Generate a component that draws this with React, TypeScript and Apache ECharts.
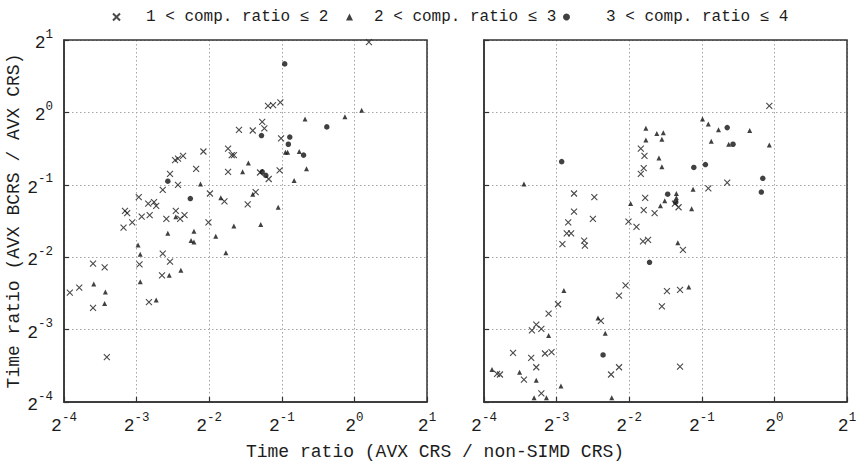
import React, { useEffect, useRef } from "react";
import * as echarts from "echarts";

// Values are log2 of the time ratios: [x, y]
const seriesNames = ["1 < comp. ratio ≤ 2", "2 < comp. ratio ≤ 3", "3 < comp. ratio ≤ 4"];
const exponentTicks = [-4, -3, -2, -1, 0, 1];

const leftCross: number[][] = [
  [-1.19, 0.09], [-1.12, 0.10], [-1.02, 0.14], [-1.27, -0.13], [-1.24, -0.22], [-1.59, -0.24], [-1.40, -0.25], [-1.01, -0.36],
  [-1.74, -0.50], [-1.69, -0.59], [-1.66, -0.59], [-2.08, -0.54], [-2.47, -0.66], [-2.43, -0.64], [-2.36, -0.60], [-2.18, -0.78], [-2.54, -0.85],
  [-1.74, -0.82], [-1.30, -0.83], [-1.03, -0.80], [-1.18, -0.92], [-2.43, -1.00], [-2.64, -1.07], [-2.97, -1.17], [-1.99, -1.12], [-1.79, -1.23],
  [-1.36, -1.10], [-1.47, -1.27], [-2.84, -1.26], [-2.76, -1.24], [-2.73, -1.29], [-3.16, -1.36], [-3.13, -1.39], [-3.06, -1.52], [-3.18, -1.59],
  [-2.93, -1.44], [-2.82, -1.42], [-2.59, -1.47], [-2.46, -1.36], [-2.40, -1.47], [-2.34, -1.42], [-2.01, -1.52], [-3.60, -2.09], [-3.44, -2.14],
  [-2.96, -2.10], [-2.64, -1.95], [-2.54, -2.06], [-2.65, -2.25], [-2.83, -2.62], [-3.60, -2.70], [-3.92, -2.49], [-3.79, -2.42], [-3.41, -3.38], [0.20, 0.97],
];
const leftTriangle: number[][] = [
  [0.10, 0.03], [-0.13, -0.06], [-0.68, -0.09], [-0.76, -0.54], [-0.95, -0.55], [-0.92, -0.55], [-0.66, -0.78], [-0.83, -0.94], [-1.46, -0.70], [-1.54, -0.82], [-2.12, -0.99],
  [-1.84, -1.18], [-1.40, -1.13], [-1.05, -1.31], [-2.46, -1.44], [-1.66, -1.57], [-1.29, -1.55], [-2.57, -1.67], [-2.21, -1.64], [-1.91, -1.71], [-2.25, -1.77],
  [-2.21, -1.79], [-1.77, -1.94], [-2.98, -1.83], [-2.95, -1.96], [-2.95, -2.34], [-2.55, -2.25], [-2.39, -2.18], [-3.59, -2.37], [-3.43, -2.48], [-3.44, -2.64], [-2.73, -2.59],
];
const leftCircle: number[][] = [
  [-0.96, 0.67], [-1.28, -0.32], [-0.89, -0.34], [-0.91, -0.44], [-0.70, -0.59], [-0.38, -0.20], [-1.27, -0.82], [-1.22, -0.87], [-2.57, -0.95], [-2.26, -1.19],
];

const rightCross: number[][] = [
  [-0.07, 0.09], [-1.84, -0.50], [-1.79, -0.60], [-1.80, -0.77], [-1.84, -0.85], [-0.65, -0.97], [-0.91, -1.05], [-2.76, -1.12], [-2.48, -1.17], [-1.78, -1.18],
  [-2.76, -1.37], [-2.50, -1.47], [-2.84, -1.52], [-2.86, -1.67], [-2.80, -1.67], [-2.92, -1.82], [-2.62, -1.77], [-2.61, -1.84], [-2.01, -1.51], [-1.90, -1.58],
  [-1.80, -1.35], [-1.65, -1.39], [-1.81, -1.78], [-1.74, -1.76], [-1.32, -1.31], [-1.37, -1.26], [-1.26, -1.90], [-2.05, -2.39], [-2.14, -2.53], [-1.48, -2.47], [-1.30, -2.45],
  [-1.55, -2.68], [-2.98, -2.65], [-3.11, -2.78], [-3.28, -2.93], [-3.21, -2.99], [-3.34, -3.01], [-3.60, -3.32], [-3.35, -3.39], [-3.28, -3.52], [-3.16, -3.33],
  [-3.07, -3.31], [-3.82, -3.61], [-3.78, -3.62], [-3.45, -3.69], [-3.21, -3.88], [-2.39, -2.88], [-2.14, -3.52], [-2.25, -3.62], [-1.30, -3.51],
];
const rightTriangle: number[][] = [
  [-0.99, -0.09], [-0.91, -0.16], [-0.77, -0.24], [-0.34, -0.25], [-0.87, -0.40], [-0.63, -0.44], [-0.07, -0.45], [-1.77, -0.22], [-1.62, -0.29], [-1.53, -0.28],
  [-1.77, -0.38], [-1.55, -0.37], [-1.59, -0.63], [-1.55, -0.75], [-1.12, -1.06], [-1.35, -1.12], [-1.35, -1.18], [-1.98, -1.26], [-1.57, -1.29], [-1.51, -1.22],
  [-1.14, -1.33], [-1.33, -1.80], [-2.90, -2.46], [-1.18, -2.41], [-3.45, -0.99], [-3.89, -3.55], [-3.51, -3.59], [-3.28, -3.70], [-3.31, -3.94], [-3.14, -3.94],
  [-2.94, -3.78], [-3.11, -3.08], [-2.43, -2.84], [-2.33, -3.05], [-2.24, -3.94],
];
const rightCircle: number[][] = [
  [-0.65, -0.21], [-0.57, -0.44], [-2.93, -0.68], [-1.11, -0.76], [-0.95, -0.72], [-0.16, -0.91], [-0.18, -1.10], [-1.47, -1.13], [-1.36, -1.24], [-1.72, -2.07], [-2.36, -3.35],
];

const xTitle = "Time ratio (AVX CRS / non-SIMD CRS)";
const yTitle = "Time ratio (AVX BCRS / AVX CRS)";

const FONT = "'Liberation Mono', 'DejaVu Sans Mono', monospace";
const INK = "#1c1c1c";

const rich = {
  b: { fontFamily: FONT, fontSize: 18, lineHeight: 24, color: INK, verticalAlign: "bottom" },
  e: { fontFamily: FONT, fontSize: 12.5, lineHeight: 12, color: INK, verticalAlign: "top" },
};
const fmt = (v: number) => `{b|2}{e|${v}}`;

const minExp = exponentTicks[0];
const maxExp = exponentTicks[exponentTicks.length - 1];

const gridLine = () => ({ show: true, lineStyle: { type: [1.5, 2.5], color: "#a6a6a6", width: 1 } });
const tick = () => ({ show: true, inside: true, length: 5, lineStyle: { color: "#333333", width: 1.2 } });
const axisLine = () => ({ show: true, onZero: false, lineStyle: { color: "#333333", width: 1.5 } });

function xAxis(gridIndex: number) {
  return {
    type: "value",
    gridIndex,
    min: minExp,
    max: maxExp,
    interval: 1,
    position: "bottom",
    axisLine: axisLine(),
    axisTick: tick(),
    axisLabel: { show: true, margin: 9, formatter: fmt, rich },
    splitLine: gridLine(),
  };
}
function yAxis(gridIndex: number, labels: boolean, name?: string) {
  return {
    type: "value",
    gridIndex,
    min: minExp,
    max: maxExp,
    interval: 1,
    position: "left",
    name: name,
    nameLocation: "middle",
    nameGap: 40,
    nameRotate: 90,
    nameTextStyle: { fontFamily: FONT, fontSize: 18, color: INK },
    axisLine: axisLine(),
    axisTick: tick(),
    axisLabel: { show: labels, margin: 11, formatter: fmt, rich },
    splitLine: gridLine(),
  };
}

const crossSymbol = "path://M0 0L10 10M10 0L0 10";

function makeSeries(name: string, data: number[][], kind: number, axisIdx: number) {
  const base: any = {
    type: "scatter",
    name,
    data,
    xAxisIndex: axisIdx,
    yAxisIndex: axisIdx,
  };
  if (kind === 0) {
    base.symbol = crossSymbol;
    base.symbolSize = 6;
    base.itemStyle = { color: "rgba(0,0,0,0)", borderColor: INK, borderWidth: 1.1 };
  } else if (kind === 1) {
    base.symbol = "triangle";
    base.symbolSize = [5, 5];
    base.itemStyle = { color: "#111" };
  } else {
    base.symbol = "circle";
    base.symbolSize = 5.5;
    base.itemStyle = { color: "#111" };
  }
  return base;
}

const legendLefts = [107, 341, 558];
const legendSpacers = [21, 16, 31];

const panelLefts = [64, 484];
const panelTop = 40;
const panelWidth = 363;
const panelHeight = 362;

export default function App() {
  const ref = useRef<HTMLDivElement>(null);
  useEffect(() => {
    if (!ref.current) return;
    const chart = echarts.init(ref.current, undefined, { renderer: "svg" });
    chart.setOption({
      animation: false,
      legend: seriesNames.map((n, i) => ({
        top: 4,
        left: legendLefts[i],
        itemWidth: 7,
        itemHeight: 7,
        selectedMode: false,
        data: [n],
        formatter: (name: string) => `{s|}${name}`,
        textStyle: {
          fontFamily: FONT,
          fontSize: 16,
          color: INK,
          rich: { s: { width: legendSpacers[i], fontSize: 16, fontFamily: FONT } },
        },
      })),
      grid: panelLefts.map((l) => ({ left: l, top: panelTop, width: panelWidth, height: panelHeight })),
      xAxis: [xAxis(0), xAxis(1)],
      yAxis: [yAxis(0, true, yTitle), yAxis(1, false)],
      title: {
        text: xTitle,
        left: 430,
        top: 438,
        textAlign: "center",
        textStyle: { fontFamily: FONT, fontSize: 18, fontWeight: "normal", color: INK },
      },
      graphic: panelLefts.map((l) => ({
        type: "rect",
        silent: true,
        z: 10,
        shape: { x: l, y: panelTop, width: panelWidth, height: panelHeight },
        style: { fill: "none", stroke: "#333333", lineWidth: 1.5 },
      })),
      series: [
        makeSeries(seriesNames[0], leftCross, 0, 0),
        makeSeries(seriesNames[1], leftTriangle, 1, 0),
        makeSeries(seriesNames[2], leftCircle, 2, 0),
        makeSeries(seriesNames[0], rightCross, 0, 1),
        makeSeries(seriesNames[1], rightTriangle, 1, 1),
        makeSeries(seriesNames[2], rightCircle, 2, 1),
      ],
    });
    return () => chart.dispose();
  }, []);
  return (
    <div
      ref={ref}
      style={{ position: "fixed", left: 0, top: 0, width: 860, height: 462, background: "#fff" }}
    />
  );
}
